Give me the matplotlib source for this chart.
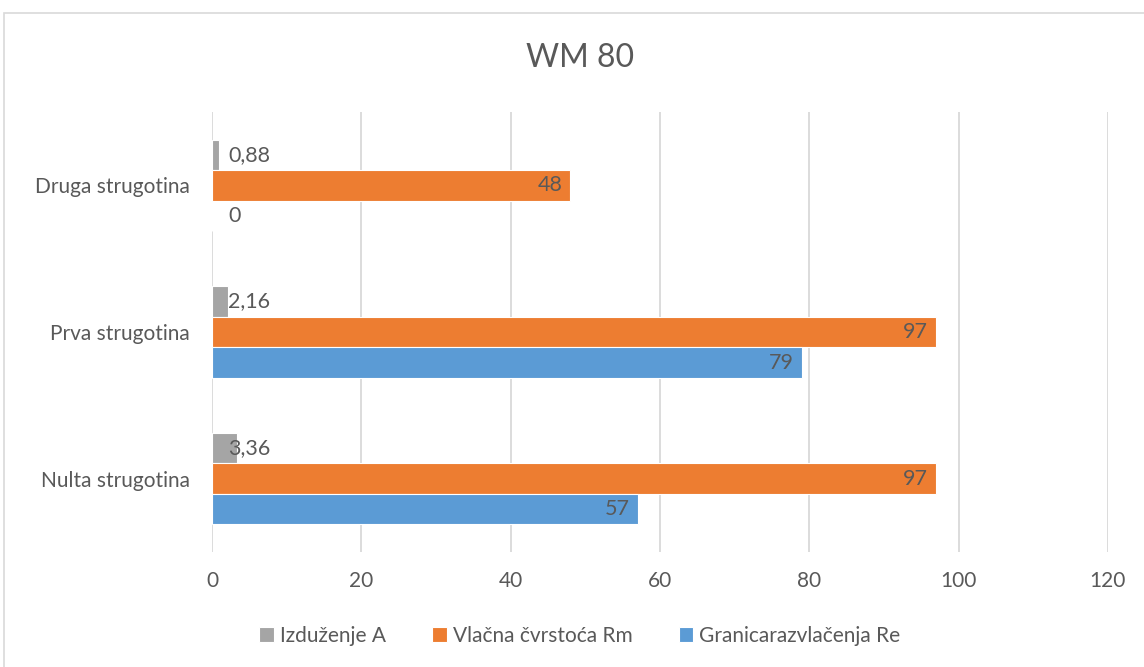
import matplotlib.pyplot as plt
import numpy as np
from matplotlib.patches import Rectangle

plt.rcParams['font.family'] = ['Lato', 'DejaVu Sans']

# data (bottom to top as drawn)
categories = ["Nulta strugotina", "Prva strugotina", "Druga strugotina"]
izduzenje = [3.36, 2.16, 0.88]
vlacna = [97, 97, 48]
granica = [57, 79, 0]
series_names = ["Izduženje A", "Vlačna čvrstoća Rm", "Granicarazvlačenja Re"]
xticks = [0, 20, 40, 60, 80, 100, 120]

c_gray = "#A5A5A5"
c_orange = "#ED7D31"
c_blue = "#5B9BD5"
txt = "#595959"

def fmt(v):
    s = ("%g" % v).replace(".", ",")
    return s

fig = plt.figure(figsize=(11.44, 6.67), dpi=100)
ax = fig.add_axes([0.1853, 0.1724, 0.7831, 0.6597])

# chart border
fig.patches.append(Rectangle((4/1144, -0.1), 1.2, 1 - 13/667 + 0.1, transform=fig.transFigure,
                             fill=False, edgecolor="#D9D9D9", linewidth=1.2))

y = np.arange(len(categories))
h = 0.208
bg = ax.barh(y + h, izduzenje, height=h, color=c_gray, edgecolor="white", linewidth=0.8, label=series_names[0], zorder=2)
bo = ax.barh(y, vlacna, height=h, color=c_orange, edgecolor="white", linewidth=0.8, label=series_names[1], zorder=2)
bb = ax.barh(y - h, granica, height=h, color=c_blue, edgecolor="white", linewidth=0.8, label=series_names[2], zorder=2)

# labels
for yy, v in zip(y + h, izduzenje):
    ax.annotate(fmt(v), (0, yy), xytext=(16, 0), textcoords="offset pixels",
                ha="left", va="center", fontsize=15.5, color=txt, zorder=3)
for yy, v in zip(y, vlacna):
    ax.annotate(fmt(v), (v, yy), xytext=(-8, 0), textcoords="offset pixels",
                ha="right", va="center", fontsize=15.5, color=txt, zorder=3)
for yy, v in zip(y - h, granica):
    if v == 0:
        ax.annotate(fmt(v), (0, yy), xytext=(16, 0), textcoords="offset pixels",
                    ha="left", va="center", fontsize=15.5, color=txt, zorder=3)
    else:
        ax.annotate(fmt(v), (v, yy), xytext=(-8, 0), textcoords="offset pixels",
                    ha="right", va="center", fontsize=15.5, color=txt, zorder=3)

ax.set_xlim(0, 120)
ax.set_ylim(-0.5, 2.5)
ax.set_xticks(xticks)
ax.set_yticks(y)
ax.set_yticklabels(categories)
ax.tick_params(axis="both", length=0, labelsize=15, colors=txt)
ax.tick_params(axis="x", pad=14)
ax.tick_params(axis="y", pad=16)
ax.grid(axis="x", color="#D9D9D9", linewidth=1.3, zorder=0)
for s in ax.spines.values():
    s.set_visible(False)

fig.text(0.507, 0.913, "WM 80", ha="center", va="center", fontsize=23, color=txt)

leg = fig.legend(handles=[bg, bo, bb], labels=series_names, loc="center", bbox_to_anchor=(0.507, 0.047),
                 ncol=3, frameon=False, fontsize=15, handlelength=0.7, handleheight=0.7,
                 handletextpad=0.3, columnspacing=2.2, labelcolor=txt)

plt.savefig("out.png", dpi=100)
